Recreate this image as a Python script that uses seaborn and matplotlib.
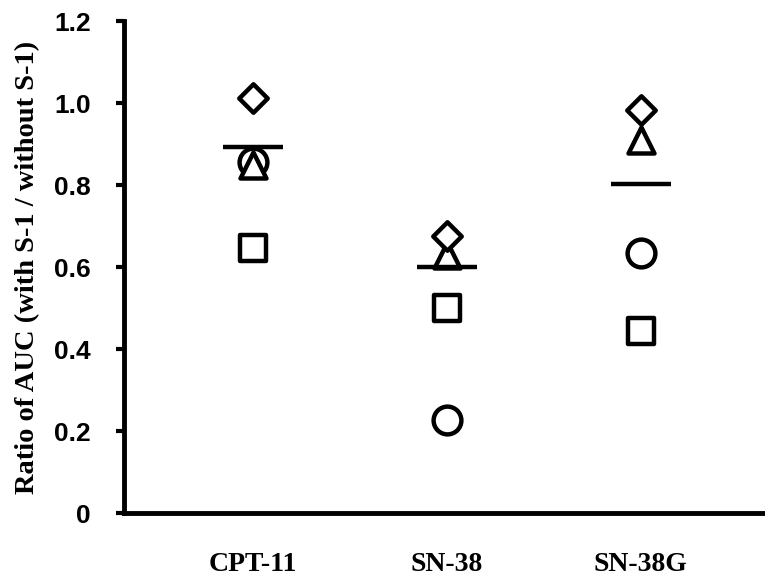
import pandas as pd
import numpy as np
import matplotlib
matplotlib.use("Agg")
import matplotlib.pyplot as plt
import seaborn as sns

# Values
drugs = ["CPT-11", "SN-38", "SN-38G"]
diamond_vals = [1.012, 0.676, 0.983]
triangle_vals = [0.85, 0.63, 0.91]
circle_vals = [0.856, 0.227, 0.634]
square_vals = [0.646, 0.50, 0.444]
mean_vals = [0.893, 0.60, 0.802]

yticks = [0, 0.2, 0.4, 0.6, 0.8, 1.0, 1.2]
ytick_labels = ["0", "0.2", "0.4", "0.6", "0.8", "1.0", "1.2"]

sns.set_style("white")

fig = plt.figure(figsize=(7.65, 5.87), dpi=100)
ax = fig.add_axes([0.162, 0.126, 0.838, 0.838])

# series: (values, marker, size)
series = [
    (square_vals, "s", 370),
    (circle_vals, "o", 400),
    (triangle_vals, "^", 350),
    (diamond_vals, "D", 210),
]
for vals, mk, sz in series:
    df = pd.DataFrame({"drug": drugs, "ratio": vals})
    sns.scatterplot(data=df, x="drug", y="ratio", marker=mk, s=sz,
                    facecolor="white", edgecolor="black", linewidth=3.2,
                    ax=ax, zorder=3)

# mean bars
df_mean = pd.DataFrame({"drug": drugs, "ratio": mean_vals})
sns.scatterplot(data=df_mean, x="drug", y="ratio", marker="_", s=1900,
                color="black", linewidth=3.2, ax=ax, zorder=4)

ax.set_xlim(-0.665, 2.64)
ax.set_ylim(0, 1.2)
ax.set_yticks(yticks)
ax.set_yticklabels(ytick_labels, fontsize=19, fontweight="bold",
                   family="Liberation Sans", color="black")
ax.set_xticks(range(len(drugs)))
ax.set_xticklabels(drugs, fontsize=20, fontweight="bold",
                   family="Liberation Serif", color="black")
ax.tick_params(axis="x", length=0, pad=28)
ax.tick_params(axis="y", direction="out", length=6, width=3, left=True,
               pad=18, colors="black")

ax.set_xlabel("")
ax.set_ylabel("Ratio of AUC (with S-1 / without S-1)", fontsize=20.5,
              fontweight="bold", family="Liberation Serif", labelpad=10,
              color="black")

sns.despine(ax=ax, top=True, right=True)
for side in ["left", "bottom"]:
    ax.spines[side].set_linewidth(3.5)
    ax.spines[side].set_color("black")
ax.grid(False)

fig.savefig("out.png", dpi=100)
